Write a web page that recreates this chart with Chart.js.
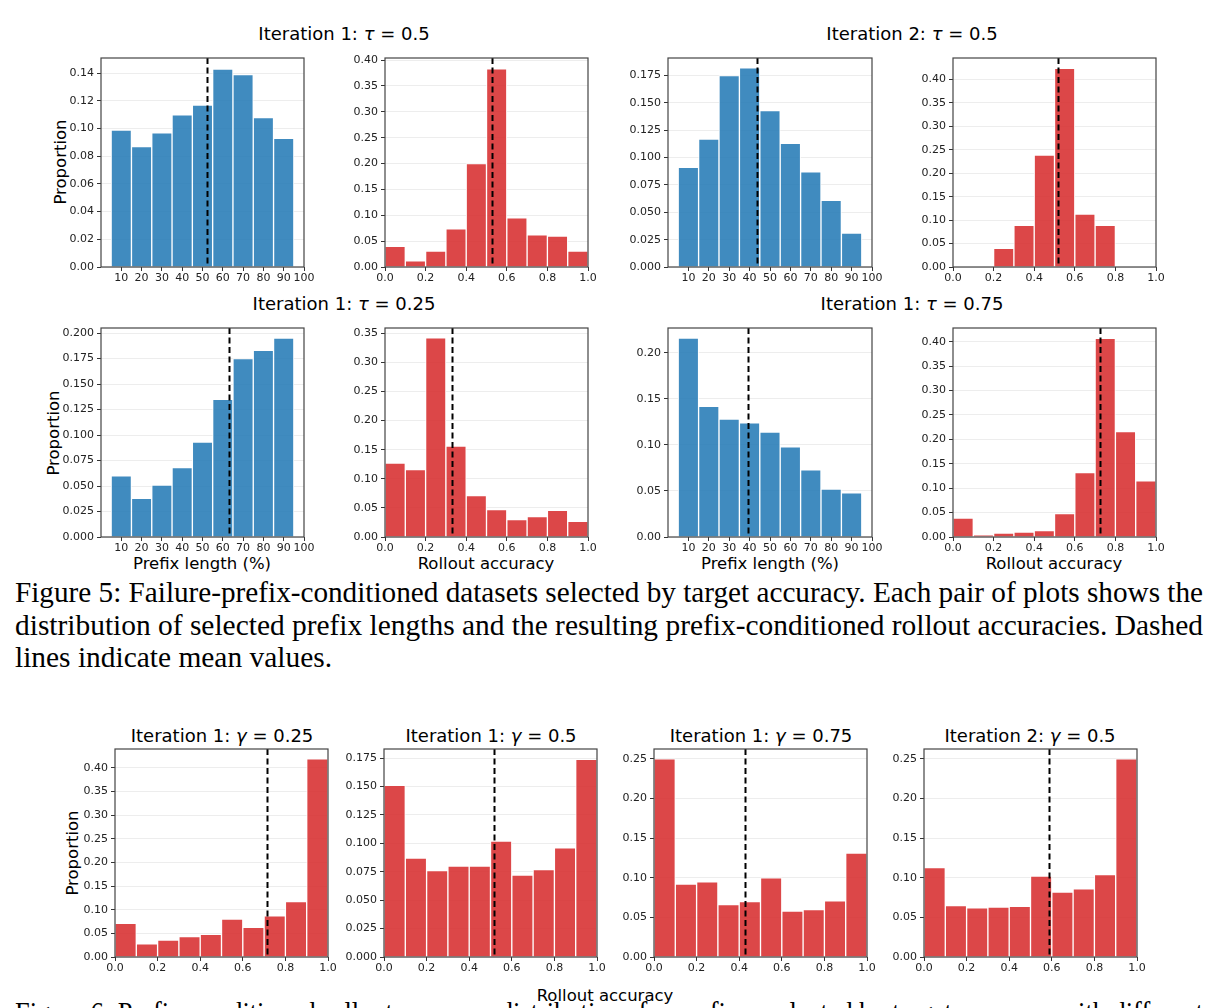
<!DOCTYPE html>
<html>
<head>
<meta charset="utf-8">
<script src="https://cdn.jsdelivr.net/npm/chart.js@4.4.0/dist/chart.umd.min.js"></script>
<style>
  body { margin: 0; width: 1219px; height: 1008px; overflow: hidden; background: #fff; position: relative; font-family: 'DejaVu Sans', sans-serif; color: #000; }
  .box { position: absolute; }
  .box canvas { display: block; }
  .ttl { position: absolute; white-space: nowrap; transform: translate(-50%, -50%); font-size: 18px; }
  .lbl { position: absolute; white-space: nowrap; transform: translate(-50%, -50%); font-size: 16.5px; }
  .ylbl { position: absolute; white-space: nowrap; transform: translate(-50%, -50%) rotate(-90deg); font-size: 16.5px; }
  .cap { position: absolute; left: 15px; white-space: nowrap; font-family: 'Liberation Serif', serif; font-size: 30px; line-height: 32px; transform-origin: 0 50%; }
</style>
</head>
<body>

<div class="ttl" style="left:344px; top:33px">Iteration 1: <i>τ</i> = 0.5</div>
<div class="ttl" style="left:912px; top:33px">Iteration 2: <i>τ</i> = 0.5</div>
<div class="ttl" style="left:344px; top:303px">Iteration 1: <i>τ</i> = 0.25</div>
<div class="ttl" style="left:912px; top:303px">Iteration 1: <i>τ</i> = 0.75</div>

<div class="ylbl" style="left:60px; top:162px">Proportion</div>
<div class="ylbl" style="left:53px; top:433px">Proportion</div>
<div class="lbl" style="left:202px; top:563px">Prefix length (%)</div>
<div class="lbl" style="left:486px; top:563px">Rollout accuracy</div>
<div class="lbl" style="left:770px; top:563px">Prefix length (%)</div>
<div class="lbl" style="left:1054px; top:563px">Rollout accuracy</div>

<div class="cap fit" style="top:576px">Figure 5: Failure-prefix-conditioned datasets selected by target accuracy. Each pair of plots shows the</div>
<div class="cap fit" style="top:609px">distribution of selected prefix lengths and the resulting prefix-conditioned rollout accuracies. Dashed</div>
<div class="cap" style="top:641px">lines indicate mean values.</div>

<div class="ttl" style="left:222px; top:735px">Iteration 1: <i>γ</i> = 0.25</div>
<div class="ttl" style="left:491px; top:735px">Iteration 1: <i>γ</i> = 0.5</div>
<div class="ttl" style="left:761px; top:735px">Iteration 1: <i>γ</i> = 0.75</div>
<div class="ttl" style="left:1030px; top:735px">Iteration 2: <i>γ</i> = 0.5</div>
<div class="ylbl" style="left:72px; top:853px">Proportion</div>
<div class="lbl" style="left:605px; top:995px">Rollout accuracy</div>

<div class="cap fit" style="top:996px">Figure 6: Prefix-conditioned rollout accuracy distributions for prefixes selected by target accuracy with different</div>

<script>
// bin centres and ticks
const prefixBins = [10, 20, 30, 40, 50, 60, 70, 80, 90];
const accBins = [0.05, 0.15, 0.25, 0.35, 0.45, 0.55, 0.65, 0.75, 0.85, 0.95];
const prefixTicks = [10, 20, 30, 40, 50, 60, 70, 80, 90, 100];
const accTicks = [0, 0.2, 0.4, 0.6, 0.8, 1.0];

// Figure 5: prefix length proportions
const lenIt1Tau050 = [0.099, 0.087, 0.097, 0.110, 0.117, 0.143, 0.139, 0.108, 0.093];
const lenIt2Tau050 = [0.091, 0.117, 0.175, 0.182, 0.143, 0.113, 0.087, 0.061, 0.031];
const lenIt1Tau025 = [0.060, 0.038, 0.051, 0.068, 0.093, 0.135, 0.175, 0.183, 0.195];
const lenIt1Tau075 = [0.216, 0.142, 0.128, 0.124, 0.114, 0.098, 0.073, 0.052, 0.048];

// Figure 5: rollout accuracy proportions
const accIt1Tau050 = [0.040, 0.012, 0.031, 0.074, 0.200, 0.383, 0.095, 0.062, 0.060, 0.031];
const accIt2Tau050 = [0, 0, 0.040, 0.089, 0.239, 0.424, 0.113, 0.089, 0, 0];
const accIt1Tau025 = [0.127, 0.116, 0.342, 0.156, 0.071, 0.047, 0.030, 0.035, 0.046, 0.027];
const accIt1Tau075 = [0.039, 0.004, 0.008, 0.010, 0.013, 0.048, 0.132, 0.407, 0.216, 0.115];

// Figure 6: rollout accuracy proportions
const accIt1Gam025 = [0.071, 0.028, 0.036, 0.043, 0.048, 0.080, 0.063, 0.087, 0.117, 0.419];
const accIt1Gam050 = [0.151, 0.087, 0.076, 0.080, 0.080, 0.102, 0.072, 0.077, 0.096, 0.174];
const accIt1Gam075 = [0.250, 0.092, 0.095, 0.066, 0.070, 0.100, 0.058, 0.060, 0.071, 0.131];
const accIt2Gam050 = [0.113, 0.065, 0.062, 0.063, 0.064, 0.102, 0.082, 0.086, 0.104, 0.250];

// dashed mean lines
const meansFig5 = [52, 0.526, 43.6, 0.517, 63, 0.33, 39.4, 0.725];
const meansFig6 = [0.715, 0.515, 0.427, 0.588];

const BLUE = 'rgba(31,119,180,0.85)';
const RED = 'rgba(214,39,40,0.85)';
const YW = 60, PT = 10, PR = 14, XH = 22;
const tickFont = { family: 'DejaVu Sans', size: 11 };

const meanLine = {
    id: 'meanLine',
    afterDatasetsDraw(chart, args, opts) {
        const { ctx, chartArea: a, scales: { x } } = chart;
        const px = Math.round(x.getPixelForValue(opts.value)) + 0.5;
        ctx.save();
        ctx.strokeStyle = '#000';
        ctx.lineWidth = 2;
        ctx.setLineDash([6, 3.5]);
        ctx.beginPath();
        ctx.moveTo(px, a.top);
        ctx.lineTo(px, a.bottom);
        ctx.stroke();
        // frame round the axes
        ctx.setLineDash([]);
        ctx.lineWidth = 1.2;
        ctx.strokeStyle = '#444';
        ctx.strokeRect(a.left, a.top, a.right - a.left, a.bottom - a.top);
        ctx.restore();
    }
};

function drawPanel(p) {
    const wrap = document.createElement('div');
    wrap.className = 'box';
    wrap.style.left = (p.left - YW) + 'px';
    wrap.style.top = (p.top - PT) + 'px';
    const cv = document.createElement('canvas');
    cv.width = YW + p.w + PR;
    cv.height = PT + p.h + XH;
    wrap.appendChild(cv);
    document.body.appendChild(wrap);

    const isLen = p.bins === prefixBins;
    const xTicks = isLen ? prefixTicks : accTicks;

    new Chart(cv.getContext('2d'), {
        type: 'bar',
        data: {
            datasets: [{
                data: p.bins.map((b, i) => ({ x: b, y: p.vals[i] })),
                backgroundColor: p.color,
                borderColor: 'rgba(255,255,255,0.9)',
                borderWidth: 1,
                barPercentage: 1,
                categoryPercentage: 1
            }]
        },
        options: {
            responsive: false,
            animation: false,
            layout: { padding: { top: PT, right: PR, left: 0, bottom: 0 } },
            plugins: {
                legend: { display: false },
                tooltip: { enabled: false },
                meanLine: { value: p.mean }
            },
            scales: {
                x: {
                    type: 'linear',
                    offset: false,
                    min: 0,
                    max: isLen ? 100 : 1,
                    afterFit: s => { s.height = XH; },
                    afterBuildTicks: s => { s.ticks = xTicks.map(v => ({ value: v })); },
                    grid: { offset: false, drawOnChartArea: false, tickLength: 4, tickColor: '#333' },
                    border: { display: false },
                    ticks: {
                        font: tickFont, color: '#222', padding: 1,
                        maxRotation: 0, autoSkip: false,
                        callback: v => isLen ? String(v) : v.toFixed(1)
                    }
                },
                y: {
                    min: 0,
                    max: p.ymax,
                    afterFit: s => { s.width = YW; },
                    grid: { color: 'rgba(0,0,0,0.07)', tickLength: 4, tickColor: '#333' },
                    border: { display: false },
                    ticks: {
                        font: tickFont, color: '#222', padding: 3,
                        stepSize: p.step, includeBounds: false,
                        callback: v => v.toFixed(p.dec)
                    }
                }
            }
        },
        plugins: [meanLine]
    });
}

const panels = [
    { bins: prefixBins, vals: lenIt1Tau050, mean: meansFig5[0], color: BLUE, left: 101, top: 58, w: 203, h: 209, ymax: 0.151, step: 0.02, dec: 2 },
    { bins: accBins, vals: accIt1Tau050, mean: meansFig5[1], color: RED, left: 385, top: 58, w: 203, h: 209, ymax: 0.404, step: 0.05, dec: 2 },
    { bins: prefixBins, vals: lenIt2Tau050, mean: meansFig5[2], color: BLUE, left: 668, top: 58, w: 204, h: 209, ymax: 0.191, step: 0.025, dec: 3 },
    { bins: accBins, vals: accIt2Tau050, mean: meansFig5[3], color: RED, left: 953, top: 58, w: 203, h: 209, ymax: 0.446, step: 0.05, dec: 2 },
    { bins: prefixBins, vals: lenIt1Tau025, mean: meansFig5[4], color: BLUE, left: 101, top: 328, w: 203, h: 209, ymax: 0.205, step: 0.025, dec: 3 },
    { bins: accBins, vals: accIt1Tau025, mean: meansFig5[5], color: RED, left: 385, top: 328, w: 203, h: 209, ymax: 0.359, step: 0.05, dec: 2 },
    { bins: prefixBins, vals: lenIt1Tau075, mean: meansFig5[6], color: BLUE, left: 668, top: 328, w: 204, h: 209, ymax: 0.227, step: 0.05, dec: 2 },
    { bins: accBins, vals: accIt1Tau075, mean: meansFig5[7], color: RED, left: 953, top: 328, w: 203, h: 209, ymax: 0.428, step: 0.05, dec: 2 },
    { bins: accBins, vals: accIt1Gam025, mean: meansFig6[0], color: RED, left: 115, top: 749, w: 213, h: 208, ymax: 0.440, step: 0.05, dec: 2 },
    { bins: accBins, vals: accIt1Gam050, mean: meansFig6[1], color: RED, left: 384, top: 749, w: 213, h: 208, ymax: 0.183, step: 0.025, dec: 3 },
    { bins: accBins, vals: accIt1Gam075, mean: meansFig6[2], color: RED, left: 654, top: 749, w: 213, h: 208, ymax: 0.2625, step: 0.05, dec: 2 },
    { bins: accBins, vals: accIt2Gam050, mean: meansFig6[3], color: RED, left: 924, top: 749, w: 213, h: 208, ymax: 0.2625, step: 0.05, dec: 2 }
];

panels.forEach(drawPanel);

// squeeze caption lines to the justified width of the reference
let lastScale = 1;
document.querySelectorAll('.cap').forEach(el => {
    if (el.classList.contains('fit')) {
        lastScale = 1188 / el.getBoundingClientRect().width;
    }
    el.style.transform = 'scaleX(' + lastScale + ')';
});
</script>
</body>
</html>
